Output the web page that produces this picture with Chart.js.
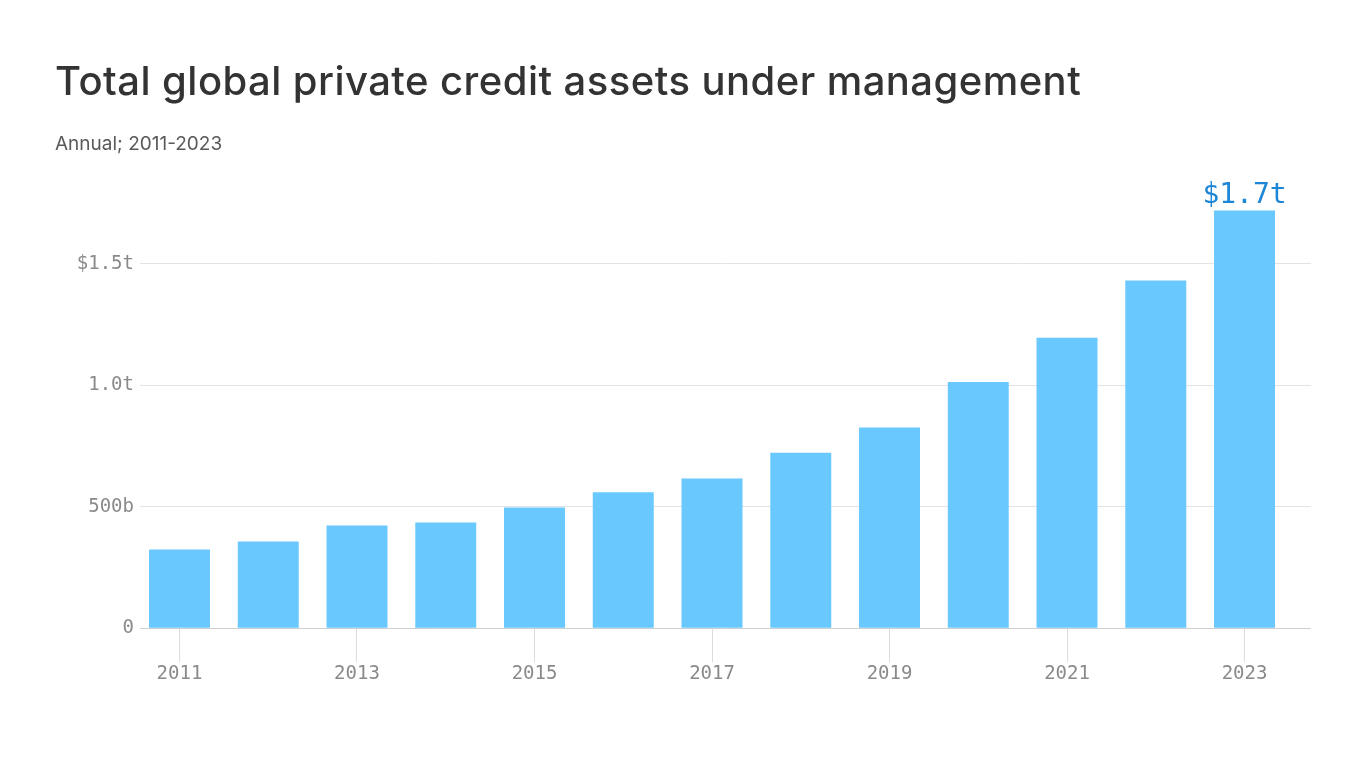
<!DOCTYPE html>
<html>
<head>
<meta charset="utf-8">
<script src="https://cdn.jsdelivr.net/npm/chart.js@4.4.1/dist/chart.umd.min.js"></script>
<style>
    html, body { margin: 0; padding: 0; background: #fff; }
    #wrap { position: absolute; left: 0; top: 0; width: 1366px; height: 768px; }
    #title {
        position: absolute; left: 55px; top: 61px;
        font-family: Inter, sans-serif; font-size: 40px; line-height: 40px;
        font-weight: 500; color: #333; letter-spacing: 0.45px; white-space: nowrap;
    }
    #subtitle {
        position: absolute; left: 55px; top: 134px;
        font-family: Inter, sans-serif; font-size: 19px; line-height: 19px;
        color: #5a5a5a; white-space: nowrap;
    }
</style>
</head>
<body>
<div id="wrap"><canvas id="credit-chart"></canvas></div>
<div id="title">Total global private credit assets under management</div>
<div id="subtitle">Annual; 2011-2023</div>
<script>
// assets under management, billions of dollars
const years = [2011, 2012, 2013, 2014, 2015, 2016, 2017, 2018, 2019, 2020, 2021, 2022, 2023];
const assets = [324, 357, 423, 435, 497, 560, 616, 722, 826, 1013, 1195, 1431, 1719];
const xTickYears = [2011, 2013, 2015, 2017, 2019, 2021, 2023];
const yTickValues = [0, 500, 1000, 1500];
const yTickLabels = ['0', '500b', '1.0t', '$1.5t'];

const monoFont = '"DejaVu Sans Mono", "Liberation Mono", monospace';

// label above the last bar
const lastValueLabel = {
    id: 'lastValueLabel',
    afterDatasetsDraw(chart) {
        const meta = chart.getDatasetMeta(0);
        const bar = meta.data[meta.data.length - 1];
        const value = assets[assets.length - 1];
        const c = chart.ctx;
        c.save();
        c.font = '28px ' + monoFont;
        c.fillStyle = '#1d86d6';
        c.textAlign = 'center';
        c.textBaseline = 'alphabetic';
        c.fillText('$' + (value / 1000).toFixed(1) + 't', bar.x, bar.y - 8);
        c.restore();
    }
};

var ctx = document.getElementById('credit-chart').getContext('2d');
var creditChart = new Chart(ctx, {
    type: 'bar',
    data: {
        datasets: [
            {
                data: years.map((y, i) => ({ x: y, y: assets[i] })),
                backgroundColor: '#69c8fd',
                borderWidth: 0,
                categoryPercentage: 1,
                barPercentage: 0.687
            }
        ]
    },
    plugins: [lastValueLabel],
    options: {
        responsive: true,
        maintainAspectRatio: false,
        animation: false,
        layout: {
            padding: { top: 203, right: 55, bottom: 83, left: 0 }
        },
        plugins: {
            legend: { display: false },
            tooltip: { enabled: false }
        },
        scales: {
            x: {
                type: 'linear',
                offset: false,
                min: 2010.555,
                max: 2023.749,
                afterBuildTicks: (scale) => {
                    scale.ticks = xTickYears.map((v) => ({ value: v }));
                },
                grid: {
                    offset: false,
                    drawOnChartArea: false,
                    drawTicks: true,
                    tickLength: 34,
                    color: '#dcdcdc'
                },
                border: { display: false },
                ticks: {
                    padding: 0,
                    maxRotation: 0,
                    autoSkip: false,
                    color: '#8a8a8a',
                    font: { family: monoFont, size: 19 },
                    callback: (value) => String(value)
                }
            },
            y: {
                min: 0,
                max: 1750,
                afterBuildTicks: (scale) => {
                    scale.ticks = yTickValues.map((v) => ({ value: v }));
                },
                afterFit: (scale) => { scale.width = 140; },
                grid: {
                    drawTicks: false,
                    color: (c) => c.tick && c.tick.value === 0 ? '#cfcfcf' : '#e3e3e3'
                },
                border: { display: false },
                ticks: {
                    padding: 6,
                    color: '#8a8a8a',
                    font: { family: monoFont, size: 19 },
                    callback: (value) => yTickLabels[yTickValues.indexOf(value)]
                }
            }
        }
    }
});
</script>
</body>
</html>
